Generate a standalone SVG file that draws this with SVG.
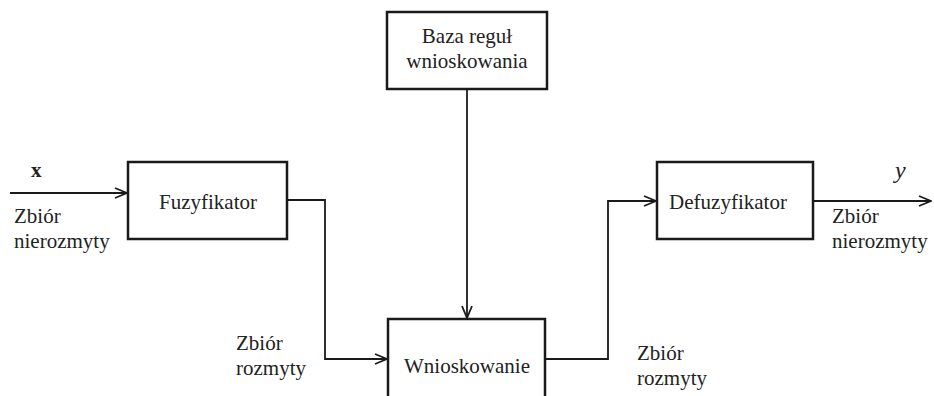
<svg xmlns="http://www.w3.org/2000/svg" width="934" height="396" viewBox="0 0 934 396">
<defs>
<style>
.box{fill:#fff;stroke:#1a1a1a;stroke-width:2.5}
.ln{fill:none;stroke:#1a1a1a;stroke-width:1.8}
text{font-family:"Liberation Serif","Times New Roman",serif;font-size:21px;fill:#222}
.c{text-anchor:middle}
</style>
<marker id="arr" viewBox="0 0 14 12" refX="13" refY="6" markerWidth="14" markerHeight="12" markerUnits="userSpaceOnUse" orient="auto">
<path d="M1,1 L13,6 L1,11" fill="none" stroke="#1a1a1a" stroke-width="1.8"/>
</marker>
</defs>
<rect width="934" height="396" fill="#fff"/>
<g id="connectors">
<line class="ln" x1="10" y1="193" x2="127" y2="193" marker-end="url(#arr)"/>
<polyline class="ln" points="287,200 325,200 325,359 387,359" marker-end="url(#arr)"/>
<line class="ln" x1="467" y1="89" x2="467" y2="318" marker-end="url(#arr)"/>
<polyline class="ln" points="545,359 608,359 608,201 656,201" marker-end="url(#arr)"/>
<line class="ln" x1="813" y1="201" x2="931" y2="201" marker-end="url(#arr)"/>
</g>
<g id="baza">
<rect class="box" x="387" y="12" width="160" height="77"/>
<text class="c" x="467" y="43">Baza reguł</text>
<text class="c" x="467" y="68">wnioskowania</text>
</g>
<g id="fuzyfikator">
<rect class="box" x="128" y="162" width="159" height="77"/>
<text class="c" x="208" y="209">Fuzyfikator</text>
</g>
<g id="wnioskowanie">
<rect class="box" x="388" y="319" width="157" height="90"/>
<text class="c" x="467" y="373">Wnioskowanie</text>
</g>
<g id="defuzyfikator">
<rect class="box" x="657" y="162" width="156" height="77"/>
<text class="c" x="728" y="209">Defuzyfikator</text>
</g>
<g id="labels">
<text x="31" y="177" style="font-weight:bold">x</text>
<text x="14" y="223">Zbiór</text>
<text x="14" y="248">nierozmyty</text>
<text x="236" y="350">Zbiór</text>
<text x="236" y="375">rozmyty</text>
<text x="637" y="360">Zbiór</text>
<text x="637" y="385">rozmyty</text>
<text x="895" y="178" style="font-style:italic;font-size:24px">y</text>
<text x="832" y="223">Zbiór</text>
<text x="832" y="248">nierozmyty</text>
</g>
</svg>
